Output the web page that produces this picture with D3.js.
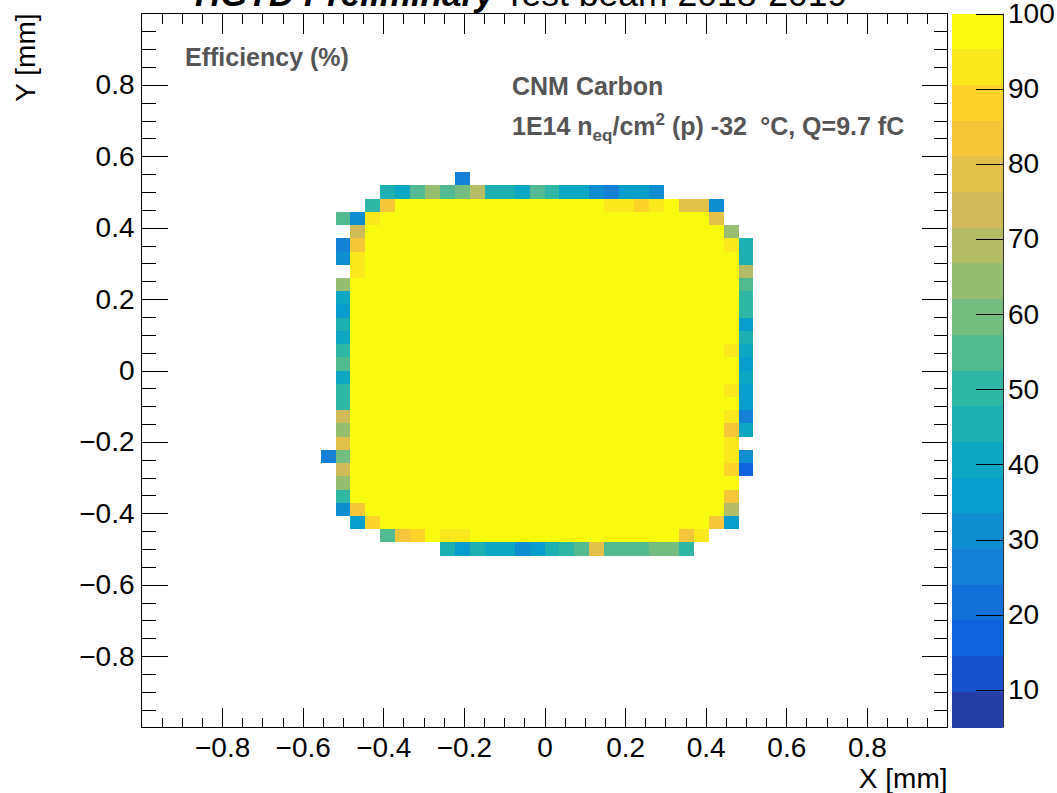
<!DOCTYPE html>
<html><head><meta charset="utf-8">
<script src="https://cdn.jsdelivr.net/npm/d3@7"></script>
<style>
body{margin:0;background:#fff}
svg{display:block;font-family:"Liberation Sans",Arial,Helvetica,sans-serif}
</style>
</head><body><svg id="c" width="1057" height="793"></svg>
<script>
// ---------------- data ----------------
const nBins = 54;                 // bins per axis
const axisRange = [-1, 1];        // mm
const zRange = [5, 100];          // efficiency colour range (%)
const nLevels = 20;               // colour contours
const xTicks = [-0.8, -0.6, -0.4, -0.2, 0, 0.2, 0.4, 0.6, 0.8];
const xTickLabels = ["\u22120.8", "\u22120.6", "\u22120.4", "\u22120.2", "0", "0.2", "0.4", "0.6", "0.8"];
const yTicks = [-0.8, -0.6, -0.4, -0.2, 0, 0.2, 0.4, 0.6, 0.8];
const yTickLabels = ["\u22120.8", "\u22120.6", "\u22120.4", "\u22120.2", "0", "0.2", "0.4", "0.6", "0.8"];
const zTicks = [10, 20, 30, 40, 50, 60, 70, 80, 90, 100];
const zTickLabels = ["10", "20", "30", "40", "50", "60", "70", "80", "90", "100"];

// efficiency map: rows of x-bins 12..40 (null = empty bin); rowBinY = y-bin index of each row
const _ = null;
const firstBinX = 12;
const rowBinY = [41, 40, 39, 38, 37, 36, 35, 34, 33, 32, 31, 30, 29, 28, 27, 26, 25, 24, 23, 22, 21, 20, 19, 18, 17, 16, 15, 14, 13];
const rowEfficiency = [
  /*41*/ [ _, _, _, _, _,    _, _, _, _,26,      _, _, _, _, _,      _, _, _, _, _,      _, _, _, _, _,      _, _, _, _],
  /*40*/ [ _, _, _, _,45,   40,55,64,55,60,     69,45,45,40,55,     50,40,40,31,26,     36,36,31, _, _,      _, _, _, _],
  /*39*/ [ _, _, _,50,83,   100,100,100,100,100, 100,100,100,100,100, 100,100,100,100,93, 93,88,93,100,79,  79,31, _, _],
  /*38*/ [ _,55,31,93,100,  100,100,100,100,100, 100,100,100,100,100, 100,100,100,100,100, 100,100,100,100,100, 100,79, _, _],
  /*37*/ [ _, _,74,100,100, 100,100,100,100,100, 100,100,100,100,100, 100,100,100,100,100, 100,100,100,100,100, 100,100,64, _],
  /*36*/ [ _,26,83,100,100, 100,100,100,100,100, 100,100,100,100,100, 100,100,100,100,100, 100,100,100,100,100, 100,100,93,45],
  /*35*/ [ _,31,93,100,100, 100,100,100,100,100, 100,100,100,100,100, 100,100,100,100,100, 100,100,100,100,100, 100,100,100,45],
  /*34*/ [ _, _,93,100,100, 100,100,100,100,100, 100,100,100,100,100, 100,100,100,100,100, 100,100,100,100,100, 100,100,100,69],
  /*33*/ [ _,64,100,100,100, 100,100,100,100,100, 100,100,100,100,100, 100,100,100,100,100, 100,100,100,100,100, 100,100,100,55],
  /*32*/ [ _,40,100,100,100, 100,100,100,100,100, 100,100,100,100,100, 100,100,100,100,100, 100,100,100,100,100, 100,100,100,50],
  /*31*/ [ _,36,100,100,100, 100,100,100,100,100, 100,100,100,100,100, 100,100,100,100,100, 100,100,100,100,100, 100,100,100,50],
  /*30*/ [ _,45,100,100,100, 100,100,100,100,100, 100,100,100,100,100, 100,100,100,100,100, 100,100,100,100,100, 100,100,100,36],
  /*29*/ [ _,40,100,100,100, 100,100,100,100,100, 100,100,100,100,100, 100,100,100,100,100, 100,100,100,100,100, 100,100,100,45],
  /*28*/ [ _,50,100,100,100, 100,100,100,100,100, 100,100,100,100,100, 100,100,100,100,100, 100,100,100,100,100, 100,100,93,40],
  /*27*/ [ _,55,100,100,100, 100,100,100,100,100, 100,100,100,100,100, 100,100,100,100,100, 100,100,100,100,100, 100,100,100,36],
  /*26*/ [ _,40,100,100,100, 100,100,100,100,100, 100,100,100,100,100, 100,100,100,100,100, 100,100,100,100,100, 100,100,100,40],
  /*25*/ [ _,50,100,100,100, 100,100,100,100,100, 100,100,100,100,100, 100,100,100,100,100, 100,100,100,100,100, 100,100,93,36],
  /*24*/ [ _,50,100,100,100, 100,100,100,100,100, 100,100,100,100,100, 100,100,100,100,100, 100,100,100,100,100, 100,100,100,36],
  /*23*/ [ _,74,100,100,100, 100,100,100,100,100, 100,100,100,100,100, 100,100,100,100,100, 100,100,100,100,100, 100,100,93,26],
  /*22*/ [ _,64,100,100,100, 100,100,100,100,100, 100,100,100,100,100, 100,100,100,100,100, 100,100,100,100,100, 100,100,83,40],
  /*21*/ [ _,79,100,100,100, 100,100,100,100,100, 100,100,100,100,100, 100,100,100,100,100, 100,100,100,100,100, 100,100,93, _],
  /*20*/ [26,60,100,100,100, 100,100,100,100,100, 100,100,100,100,100, 100,100,100,100,100, 100,100,100,100,100, 100,100,93,31],
  /*19*/ [ _,74,100,100,100, 100,100,100,100,100, 100,100,100,100,100, 100,100,100,100,100, 100,100,100,100,100, 100,100,88,17],
  /*18*/ [ _,64,100,100,100, 100,100,100,100,100, 100,100,100,100,100, 100,100,100,100,100, 100,100,100,100,100, 100,100,100, _],
  /*17*/ [ _,50,100,100,100, 100,100,100,100,100, 100,100,100,100,100, 100,100,100,100,100, 100,100,100,100,100, 100,100,83, _],
  /*16*/ [ _,31,83,100,100,  100,100,100,100,100, 100,100,100,100,100, 100,100,100,100,100, 100,100,100,100,100, 100,100,69, _],
  /*15*/ [ _, _,36,88,100,   100,100,100,100,100, 100,100,100,100,100, 100,100,100,100,100, 100,100,100,100,100, 100,83,36, _],
  /*14*/ [ _, _, _, _,55,   83,88,100,93,93,     100,100,100,100,100, 100,100,100,100,100, 100,100,100,100,83,  93, _, _, _],
  /*13*/ [ _, _, _, _, _,    _, _, _,45,36,     45,40,40,31,36,     45,50,55,79,55,     55,55,60,60,50,      _, _, _, _]
];

// ---------------- layout ----------------
const W = 1057, H = 793;
const frame = {left: 141.5, right: 947.5, top: 13.5, bottom: 727.5};
const cbar = {left: 952, right: 1003};
const fontFam = '"Liberation Sans", Arial, Helvetica, sans-serif';

const svg = d3.select("#c");
const x = d3.scaleLinear().domain(axisRange).range([frame.left, frame.right]);
const y = d3.scaleLinear().domain(axisRange).range([frame.bottom, frame.top]);
const binW = (axisRange[1] - axisRange[0]) / nBins;
const edge = k => axisRange[0] + k * binW;

// ROOT kBird palette
const stops = [0.0, 0.125, 0.25, 0.375, 0.5, 0.625, 0.75, 0.875, 1.0];
const pr = [0.2082, 0.0592, 0.0780, 0.0232, 0.1802, 0.5301, 0.8186, 0.9956, 0.9764];
const pg = [0.1664, 0.3599, 0.5041, 0.6419, 0.7178, 0.7492, 0.7328, 0.7862, 0.9832];
const pb = [0.5293, 0.8684, 0.8385, 0.7914, 0.6425, 0.4662, 0.3499, 0.1968, 0.0539];
function bird(p) {
  let s = 0;
  while (s < stops.length - 2 && p > stops[s + 1]) s++;
  const t = (p - stops[s]) / (stops[s + 1] - stops[s]);
  const c = a => Math.round(255 * (a[s] + (a[s + 1] - a[s]) * t));
  return d3.rgb(c(pr), c(pg), c(pb)).formatHex();
}
const levelColors = d3.range(nLevels).map(k => bird(Math.floor((k + 0.99) * 255 / nLevels) / 254));
const zStep = (zRange[1] - zRange[0]) / nLevels;
const color = v => levelColors[Math.max(0, Math.min(nLevels - 1, Math.floor(0.01 + (v - zRange[0]) / zStep)))];

// ---------------- cells ----------------
const cells = [];
rowBinY.forEach((j, r) => {
  rowEfficiency[r].forEach((v, n) => {
    if (v != null) cells.push({i: firstBinX + n, j, v});
  });
});

svg.append("rect").attr("width", W).attr("height", H).attr("fill", "#fff");

svg.append("g").selectAll("rect").data(cells).join("rect")
  .attr("x", d => x(edge(d.i)))
  .attr("y", d => y(edge(d.j + 1)))
  .attr("width", d => x(edge(d.i + 1)) - x(edge(d.i)))
  .attr("height", d => y(edge(d.j)) - y(edge(d.j + 1)))
  .attr("fill", d => color(d.v))
  .attr("shape-rendering", "crispEdges");

// ---------------- axes ----------------
const minorTicks = d3.range(-19, 20).map(k => k * 0.05).filter(v => Math.abs(Math.round(v * 100) % 20) !== 0);

function styleAxis(g) {
  g.select(".domain").remove();
  g.selectAll("line").attr("stroke", "#000").attr("stroke-width", 1).attr("shape-rendering", "crispEdges");
  g.selectAll("text").attr("font-size", 28).attr("fill", "#000").attr("font-family", fontFam);
}

// bottom
svg.append("g").attr("transform", `translate(0,${frame.bottom})`)
  .call(d3.axisBottom(x).tickValues(xTicks).tickSize(-20).tickPadding(10)
    .tickFormat((d, i) => xTickLabels[i])).call(styleAxis);
svg.append("g").attr("transform", `translate(0,${frame.bottom})`)
  .call(d3.axisBottom(x).tickValues(minorTicks).tickSize(-10).tickFormat("")).call(styleAxis);
// top
svg.append("g").attr("transform", `translate(0,${frame.top})`)
  .call(d3.axisTop(x).tickValues(xTicks).tickSize(-20).tickFormat("")).call(styleAxis);
svg.append("g").attr("transform", `translate(0,${frame.top})`)
  .call(d3.axisTop(x).tickValues(minorTicks).tickSize(-10).tickFormat("")).call(styleAxis);
// left
svg.append("g").attr("transform", `translate(${frame.left},0)`)
  .call(d3.axisLeft(y).tickValues(yTicks).tickSize(-26).tickPadding(7)
    .tickFormat((d, i) => yTickLabels[i])).call(styleAxis);
svg.append("g").attr("transform", `translate(${frame.left},0)`)
  .call(d3.axisLeft(y).tickValues(minorTicks).tickSize(-14).tickFormat("")).call(styleAxis);
// right
svg.append("g").attr("transform", `translate(${frame.right},0)`)
  .call(d3.axisRight(y).tickValues(yTicks).tickSize(-26).tickFormat("")).call(styleAxis);
svg.append("g").attr("transform", `translate(${frame.right},0)`)
  .call(d3.axisRight(y).tickValues(minorTicks).tickSize(-14).tickFormat("")).call(styleAxis);

// frame
svg.append("rect")
  .attr("x", frame.left).attr("y", frame.top)
  .attr("width", frame.right - frame.left).attr("height", frame.bottom - frame.top)
  .attr("fill", "none").attr("stroke", "#000").attr("stroke-width", 1)
  .attr("shape-rendering", "crispEdges");

// axis titles
svg.append("text").attr("x", frame.right).attr("y", 788).attr("text-anchor", "end")
  .attr("font-size", 28).text("X [mm]");
svg.append("text").attr("transform", `translate(35,${frame.top}) rotate(-90)`).attr("text-anchor", "end")
  .attr("font-size", 28).text("Y [mm]");

// ---------------- colour bar ----------------
const z = d3.scaleLinear().domain(zRange).range([frame.bottom, frame.top]);
svg.append("g").selectAll("rect").data(levelColors).join("rect")
  .attr("x", cbar.left).attr("width", cbar.right - cbar.left)
  .attr("y", (c, k) => z(zRange[0] + (k + 1) * zStep))
  .attr("height", (c, k) => z(zRange[0] + k * zStep) - z(zRange[0] + (k + 1) * zStep))
  .attr("fill", c => c).attr("shape-rendering", "crispEdges");
const zAxis = svg.append("g").attr("transform", `translate(${cbar.right},0)`)
  .call(d3.axisRight(z).tickValues(zTicks).tickSize(-27).tickPadding(5)
    .tickFormat((d, i) => zTickLabels[i]));
styleAxis(zAxis);
svg.append("line").attr("x1", cbar.right + 0.5).attr("x2", cbar.right + 0.5)
  .attr("y1", frame.top).attr("y2", frame.bottom).attr("stroke", "#333");

// ---------------- labels ----------------
const title = svg.append("text").attr("x", 195).attr("y", 6).attr("fill", "#000")
  .style("white-space", "pre");
title.append("tspan").attr("font-size", 35).attr("font-weight", "bold").attr("font-style", "italic").text("HGTD Preliminary");
title.append("tspan").attr("font-size", 35.5).text(" Test beam 2018-2019");

svg.append("text").attr("x", 185).attr("y", 66).attr("font-size", 25).attr("font-weight", "bold")
  .attr("fill", "#555").text("Efficiency (%)");
svg.append("text").attr("x", 512).attr("y", 95).attr("font-size", 25).attr("font-weight", "bold")
  .attr("fill", "#555").text("CNM Carbon");
const t2 = svg.append("text").attr("x", 512).attr("y", 135).attr("font-size", 25).attr("font-weight", "bold")
  .attr("fill", "#555").style("white-space", "pre");
t2.append("tspan").text("1E14 n");
t2.append("tspan").attr("font-size", 17).attr("dy", 6).text("eq");
t2.append("tspan").attr("dy", -6).text("/cm");
t2.append("tspan").attr("font-size", 17).attr("dy", -10).text("2");
t2.append("tspan").attr("dy", 10).text(" (p) -32 \u2005\u00b0C, Q=9.7 fC");
</script>
</body></html>
